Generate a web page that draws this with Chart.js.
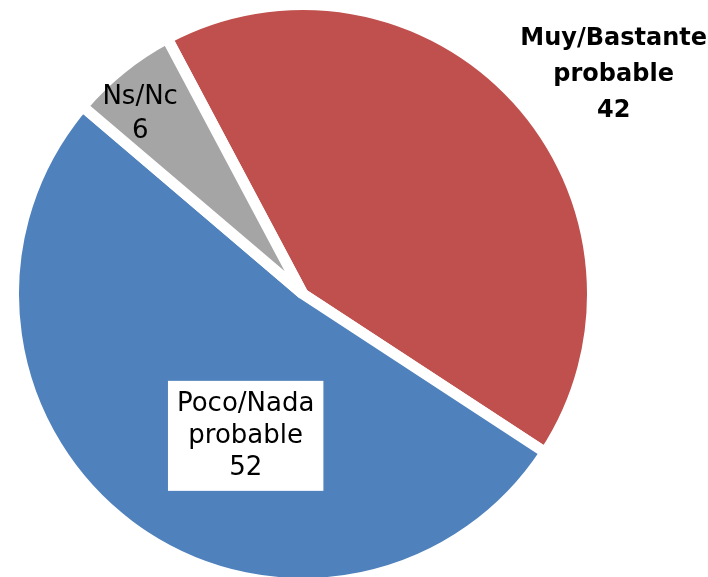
<!DOCTYPE html>
<html>
<head>
<meta charset="utf-8">
<script src="https://cdn.jsdelivr.net/npm/chart.js@4"></script>
<style>
  html, body { margin: 0; padding: 0; background: #fff; overflow: hidden; }
  #chart { display: block; }
</style>
</head>
<body>
<canvas id="chart" width="708" height="577"></canvas>
<script>
// Data
const categories = ['Muy/Bastante probable', 'Poco/Nada probable', 'Ns/Nc'];
const labelLines = [['Muy/Bastante', 'probable'], ['Poco/Nada', 'probable'], ['Ns/Nc']];
const values = [42, 52, 6];
const colors = ['#C0504D', '#4F81BD', '#A5A5A5'];

// label placement, as fractions of the radius from the pie centre
const labelStyle = [
    { dx: 1.073, dy: -0.757, bold: true, size: 24, lineH: 36, box: false },
    { dx: -0.198, dy: 0.49, bold: false, size: 26, lineH: 32, box: true },
    { dx: -0.5625, dy: -0.62, bold: false, size: 26, lineH: 34, box: false }
];

// Draw the slice labels by hand (no datalabels plugin here)
const sliceLabels = {
    id: 'sliceLabels',
    afterDatasetsDraw(chart) {
        const ctx = chart.ctx;
        const arcs = chart.getDatasetMeta(0).data;
        arcs.forEach((arc, i) => {
            const st = labelStyle[i];
            const r = arc.outerRadius;
            const cx = arc.x + st.dx * r;
            const cy = arc.y + st.dy * r;
            const lines = labelLines[i].concat([String(values[i])]);
            ctx.save();
            ctx.font = (st.bold ? 'bold ' : '') + st.size + 'px "DejaVu Sans"';
            ctx.textAlign = 'center';
            ctx.textBaseline = 'middle';
            const top = cy - (lines.length - 1) * st.lineH / 2;
            if (st.box) {
                const w = Math.max(...lines.map(l => ctx.measureText(l).width)) + 18;
                const h = lines.length * st.lineH + 14;
                ctx.fillStyle = '#fff';
                ctx.fillRect(cx - w / 2, cy - h / 2, w, h);
            }
            ctx.fillStyle = '#000';
            lines.forEach((l, k) => ctx.fillText(l, cx, top + k * st.lineH));
            ctx.restore();
        });
    }
};

const ctx = document.getElementById('chart').getContext('2d');
new Chart(ctx, {
    type: 'pie',
    data: {
        labels: categories,
        datasets: [{
            data: values,
            backgroundColor: colors,
            borderColor: '#fff',
            borderWidth: 11,
            hoverOffset: 0
        }]
    },
    options: {
        responsive: false,
        animation: false,
        rotation: -28,
        radius: 289.5,
        layout: { padding: { left: 0, right: 102, top: 11, bottom: 0 } },
        plugins: {
            legend: { display: false },
            tooltip: { enabled: false }
        }
    },
    plugins: [sliceLabels]
});
</script>
</body>
</html>
